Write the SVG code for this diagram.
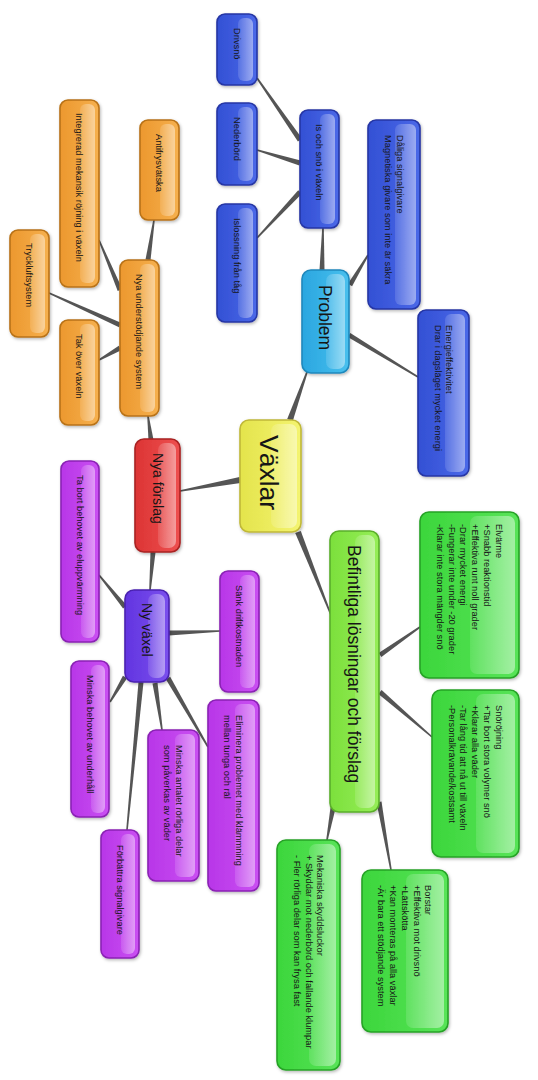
<svg xmlns="http://www.w3.org/2000/svg" width="538" height="1080" viewBox="0 0 538 1080">
<defs>
<style>
.t{font-family:"Liberation Sans",Arial,sans-serif;font-size:9.3px;fill:#161616}
.m{font-size:14px}
.b{font-size:17.5px}
.x{font-size:26.5px}
.conn polygon{fill:#555555}
.box{stroke-width:1.6;filter:url(#sh)}
.hl{fill:url(#hl)}
</style>
<filter id="sh" x="-20%" y="-20%" width="140%" height="140%">
<feDropShadow dx="1" dy="1.5" stdDeviation="1.5" flood-color="#000" flood-opacity="0.28"/>
</filter>
<linearGradient id="hl" x1="0" y1="0" x2="1" y2="0">
<stop offset="0" stop-color="#fff" stop-opacity="0.12"/>
<stop offset="1" stop-color="#fff" stop-opacity="0.45"/>
</linearGradient>
<linearGradient id="gBlue" x1="0" y1="0" x2="1" y2="0"><stop offset="0" stop-color="#3350d4"/><stop offset="1" stop-color="#4a68e8"/></linearGradient>
<linearGradient id="gCyan" x1="0" y1="0" x2="1" y2="0"><stop offset="0" stop-color="#2aa6e0"/><stop offset="1" stop-color="#48c0ee"/></linearGradient>
<linearGradient id="gYel" x1="0" y1="0" x2="1" y2="0"><stop offset="0" stop-color="#e4e44c"/><stop offset="1" stop-color="#f4f470"/></linearGradient>
<linearGradient id="gRed" x1="0" y1="0" x2="1" y2="0"><stop offset="0" stop-color="#dc3434"/><stop offset="1" stop-color="#ee5050"/></linearGradient>
<linearGradient id="gOra" x1="0" y1="0" x2="1" y2="0"><stop offset="0" stop-color="#ec982e"/><stop offset="1" stop-color="#f6b04e"/></linearGradient>
<linearGradient id="gVio" x1="0" y1="0" x2="1" y2="0"><stop offset="0" stop-color="#6234e0"/><stop offset="1" stop-color="#7a50ee"/></linearGradient>
<linearGradient id="gPur" x1="0" y1="0" x2="1" y2="0"><stop offset="0" stop-color="#b836e8"/><stop offset="1" stop-color="#ca50f2"/></linearGradient>
<linearGradient id="gLime" x1="0" y1="0" x2="1" y2="0"><stop offset="0" stop-color="#7ce03c"/><stop offset="1" stop-color="#96ee58"/></linearGradient>
<linearGradient id="gGrn" x1="0" y1="0" x2="1" y2="0"><stop offset="0" stop-color="#3cd63c"/><stop offset="1" stop-color="#58e458"/></linearGradient>
</defs>
<rect width="538" height="1080" fill="#ffffff"/>

<g id="connectors" class="conn">
<polygon points="292.8,421 307.8,372.3 306.2,371.7 287.2,419"/>
<polygon points="324.5,270 323.8,228 322.2,228 319.5,270"/>
<polygon points="352.1,286.3 368.7,255.4 367.3,254.6 347.9,283.7"/>
<polygon points="347.7,337.1 417.6,377.7 418.4,376.3 350.3,332.9"/>
<polygon points="302.1,138.6 257.7,77.5 256.3,78.5 297.9,141.4"/>
<polygon points="300.7,160.6 257.2,149.2 256.8,150.8 299.3,165.4"/>
<polygon points="298.2,190.3 256.4,237.5 257.6,238.5 301.8,193.7"/>
<polygon points="239.5,477 179.9,490.2 180.1,491.8 240.5,483"/>
<polygon points="153.5,439.7 148.8,415.9 147.2,416.1 148.5,440.3"/>
<polygon points="150.5,260.4 154.8,220.1 153.2,219.9 145.5,259.6"/>
<polygon points="122.3,289 99.7,239.7 98.3,240.3 117.7,291"/>
<polygon points="121,322.7 49.3,292.3 48.7,293.7 119,327.3"/>
<polygon points="118.8,345.8 98.6,359.3 99.4,360.7 121.2,350.2"/>
<polygon points="150.5,551.8 149.2,589.9 150.8,590.1 155.5,552.2"/>
<polygon points="126.9,605.4 99.6,574.5 98.4,575.5 123.1,608.6"/>
<polygon points="169.1,635.5 220,631.8 220,630.2 168.9,630.5"/>
<polygon points="122.9,675.7 109.3,701.6 110.7,702.4 127.1,678.3"/>
<polygon points="138.5,681.8 126.2,829.9 127.8,830.1 143.5,682.2"/>
<polygon points="152.5,683.4 161.2,730.1 162.8,729.9 157.5,682.6"/>
<polygon points="165.8,679.3 207.3,747.4 208.7,746.6 170.2,676.7"/>
<polygon points="295.2,533.1 330.3,615.3 331.7,614.7 300.8,530.9"/>
<polygon points="381.4,657.1 420.5,627.7 419.5,626.3 378.6,653"/>
<polygon points="378.4,693.9 431.5,737.6 432.5,736.4 381.6,690.1"/>
<polygon points="330.5,807.5 326.2,839.9 327.8,840.1 335.5,808.5"/>
<polygon points="376.5,802.4 390.2,870.1 391.8,869.9 381.5,801.6"/>
</g>

<g id="n-drivsno">
<rect class="box" x="217" y="14" width="40" height="71" rx="8" fill="url(#gBlue)" stroke="#2636a4"/>
<rect class="hl" x="238" y="18" width="15" height="63" rx="6"/>
<text class="t" transform="translate(233.7,28) rotate(90)">Drivsnö</text>
</g>
<g id="n-nederbord">
<rect class="box" x="217" y="103" width="40" height="82" rx="8" fill="url(#gBlue)" stroke="#2636a4"/>
<rect class="hl" x="238" y="107" width="15" height="74" rx="6"/>
<text class="t" transform="translate(233.7,117) rotate(90)">Nederbörd</text>
</g>
<g id="n-islossning">
<rect class="box" x="217" y="204" width="40" height="118" rx="8" fill="url(#gBlue)" stroke="#2636a4"/>
<rect class="hl" x="238" y="208" width="15" height="110" rx="6"/>
<text class="t" transform="translate(233.7,218) rotate(90)">Islossning från tåg</text>
</g>
<g id="n-isochsno">
<rect class="box" x="300" y="110" width="39" height="118" rx="8" fill="url(#gBlue)" stroke="#2636a4"/>
<rect class="hl" x="320" y="114" width="15" height="110" rx="6"/>
<text class="t" transform="translate(316.2,124) rotate(90)">Is och snö i växeln</text>
</g>
<g id="n-daliga">
<rect class="box" x="368" y="120" width="52" height="189" rx="8" fill="url(#gBlue)" stroke="#2636a4"/>
<rect class="hl" x="395" y="124" width="21" height="181" rx="6"/>
<text class="t" transform="translate(396.5,135) rotate(90)"><tspan x="0" y="0">Dåliga signalgivare</tspan><tspan x="0" dy="11.5">Magnetiska givare som inte är säkra</tspan></text>
</g>
<g id="n-energi">
<rect class="box" x="418" y="310" width="51" height="166" rx="8" fill="url(#gBlue)" stroke="#2636a4"/>
<rect class="hl" x="445" y="314" width="20" height="158" rx="6"/>
<text class="t" transform="translate(446,325) rotate(90)"><tspan x="0" y="0">Energieffektivitet</tspan><tspan x="0" dy="11.5">Drar i dagsläget mycket energi</tspan></text>
</g>
<g id="n-problem">
<rect class="box" x="302" y="270" width="47" height="103" rx="9" fill="url(#gCyan)" stroke="#1f88bc"/>
<rect class="hl" x="326" y="274" width="19" height="95" rx="7"/>
<text class="t b" transform="translate(319.2,285) rotate(90)">Problem</text>
</g>
<g id="n-vaxlar">
<rect class="box" x="240" y="420" width="61" height="112" rx="9" fill="url(#gYel)" stroke="#c0b838"/>
<rect class="hl" x="271" y="424" width="26" height="104" rx="7"/>
<text class="t x" transform="translate(260,435) rotate(90)">Växlar</text>
</g>
<g id="n-nyaforslag">
<rect class="box" x="135" y="439" width="45" height="113" rx="9" fill="url(#gRed)" stroke="#a82222"/>
<rect class="hl" x="158" y="443" width="18" height="105" rx="7"/>
<text class="t m" transform="translate(152.5,453) rotate(90)">Nya förslag</text>
</g>
<g id="n-nyaunderstodjande">
<rect class="box" x="120" y="260" width="39" height="156" rx="8" fill="url(#gOra)" stroke="#b87218"/>
<rect class="hl" x="140" y="264" width="15" height="148" rx="6"/>
<text class="t" transform="translate(136.2,274) rotate(90)">Nya understödjande system</text>
</g>
<g id="n-antifrys">
<rect class="box" x="140" y="120" width="39" height="100" rx="8" fill="url(#gOra)" stroke="#b87218"/>
<rect class="hl" x="160" y="124" width="15" height="92" rx="6"/>
<text class="t" transform="translate(156.2,134) rotate(90)">Antifrysvätska</text>
</g>
<g id="n-integrerad">
<rect class="box" x="60" y="100" width="39" height="187" rx="8" fill="url(#gOra)" stroke="#b87218"/>
<rect class="hl" x="80" y="104" width="15" height="179" rx="6"/>
<text class="t" transform="translate(76.2,113) rotate(90)">Integrerad mekansik röjning i växeln</text>
</g>
<g id="n-tryckluft">
<rect class="box" x="10" y="230" width="39" height="107" rx="8" fill="url(#gOra)" stroke="#b87218"/>
<rect class="hl" x="30" y="234" width="15" height="99" rx="6"/>
<text class="t" transform="translate(26.2,243) rotate(90)">Tryckluftsystem</text>
</g>
<g id="n-tak">
<rect class="box" x="60" y="320" width="39" height="105" rx="8" fill="url(#gOra)" stroke="#b87218"/>
<rect class="hl" x="80" y="324" width="15" height="97" rx="6"/>
<text class="t" transform="translate(76.2,334) rotate(90)">Tak över växeln</text>
</g>
<g id="n-nyvaxel">
<rect class="box" x="125" y="590" width="44" height="92" rx="9" fill="url(#gVio)" stroke="#4a22b0"/>
<rect class="hl" x="148" y="594" width="17" height="84" rx="7"/>
<text class="t m" transform="translate(142,603) rotate(90)">Ny växel</text>
</g>
<g id="n-tabort">
<rect class="box" x="61" y="461" width="38" height="181" rx="8" fill="url(#gPur)" stroke="#8a22b4"/>
<rect class="hl" x="81" y="465" width="14" height="173" rx="6"/>
<text class="t" transform="translate(76.7,475) rotate(90)">Ta bort behovet av eluppvärmning</text>
</g>
<g id="n-sank">
<rect class="box" x="220" y="571" width="39" height="121" rx="8" fill="url(#gPur)" stroke="#8a22b4"/>
<rect class="hl" x="240" y="575" width="15" height="113" rx="6"/>
<text class="t" transform="translate(236.2,585) rotate(90)">Sänk driftkostnaden</text>
</g>
<g id="n-minskabehovet">
<rect class="box" x="71" y="661" width="38" height="156" rx="8" fill="url(#gPur)" stroke="#8a22b4"/>
<rect class="hl" x="91" y="665" width="14" height="148" rx="6"/>
<text class="t" transform="translate(86.7,675) rotate(90)">Minska behovet av underhåll</text>
</g>
<g id="n-forbattra">
<rect class="box" x="101" y="830" width="38" height="128" rx="8" fill="url(#gPur)" stroke="#8a22b4"/>
<rect class="hl" x="121" y="834" width="14" height="120" rx="6"/>
<text class="t" transform="translate(116.7,845) rotate(90)">Förbättra signalgivare</text>
</g>
<g id="n-minskaantalet">
<rect class="box" x="148" y="730" width="51" height="151" rx="8" fill="url(#gPur)" stroke="#8a22b4"/>
<rect class="hl" x="175" y="734" width="20" height="143" rx="6"/>
<text class="t" transform="translate(175.9,745) rotate(90)"><tspan x="0" y="0">Minska antalet rörliga delar</tspan><tspan x="0" dy="11.5">som påverkas av väder</tspan></text>
</g>
<g id="n-eliminera">
<rect class="box" x="208" y="700" width="51" height="191" rx="8" fill="url(#gPur)" stroke="#8a22b4"/>
<rect class="hl" x="235" y="704" width="20" height="183" rx="6"/>
<text class="t" transform="translate(235.9,715) rotate(90)"><tspan x="0" y="0">Eliminera problemet med klämmning</tspan><tspan x="0" dy="11.5">mellan tunga och räl</tspan></text>
</g>
<g id="n-befintliga">
<rect class="box" x="330" y="531" width="49" height="281" rx="9" fill="url(#gLime)" stroke="#5aae2a"/>
<rect class="hl" x="355" y="535" width="20" height="273" rx="7"/>
<text class="t b" transform="translate(348.2,545) rotate(90)">Befintliga lösningar och förslag</text>
</g>
<g id="n-elvarme">
<rect class="box" x="420" y="512" width="99" height="166" rx="9" fill="url(#gGrn)" stroke="#26a226"/>
<rect class="hl" x="470" y="516" width="45" height="158" rx="7"/>
<text class="t" transform="translate(495.7,524) rotate(90)"><tspan x="0" y="0">Elvärme</tspan><tspan x="0" dy="11.8">+Snabb reaktionstid</tspan><tspan x="0" dy="11.8">+Effektiva runt noll grader</tspan><tspan x="0" dy="11.8">-Drar mycket energi</tspan><tspan x="0" dy="11.8">-Fungerar inte under -20 grader</tspan><tspan x="0" dy="11.8">-Klarar inte stora mängder snö</tspan></text>
</g>
<g id="n-snorojning">
<rect class="box" x="432" y="690" width="87" height="167" rx="9" fill="url(#gGrn)" stroke="#26a226"/>
<rect class="hl" x="476" y="694" width="39" height="159" rx="7"/>
<text class="t" transform="translate(495.8,705) rotate(90)"><tspan x="0" y="0">Snöröjning</tspan><tspan x="0" dy="11.8">+Tar bort stora volymer snö</tspan><tspan x="0" dy="11.8">+Klarar alla väder</tspan><tspan x="0" dy="11.8">-Tar lång tid att nå ut till växeln</tspan><tspan x="0" dy="11.8">-Personalkrävande/kostsamt</tspan></text>
</g>
<g id="n-borstar">
<rect class="box" x="362" y="870" width="86" height="162" rx="9" fill="url(#gGrn)" stroke="#26a226"/>
<rect class="hl" x="406" y="874" width="38" height="154" rx="7"/>
<text class="t" transform="translate(425.3,885) rotate(90)"><tspan x="0" y="0">Borstar</tspan><tspan x="0" dy="11.8">+Effektiva mot drivsnö</tspan><tspan x="0" dy="11.8">+Lättskötta</tspan><tspan x="0" dy="11.8">+Kan monteras på alla växlar</tspan><tspan x="0" dy="11.8">-Är bara ett stödjande system</tspan></text>
</g>
<g id="n-mekaniska">
<rect class="box" x="277" y="840" width="63" height="230" rx="9" fill="url(#gGrn)" stroke="#26a226"/>
<rect class="hl" x="309" y="844" width="27" height="222" rx="7"/>
<text class="t" transform="translate(317,855) rotate(90)"><tspan x="0" y="0">Mekaniska skyddsluckor</tspan><tspan x="0" dy="11.5">+ Skyddar mot nederbörd och fallande klumpar</tspan><tspan x="0" dy="11.5">- Fler rörliga delar som kan frysa fast</tspan></text>
</g>
</svg>
